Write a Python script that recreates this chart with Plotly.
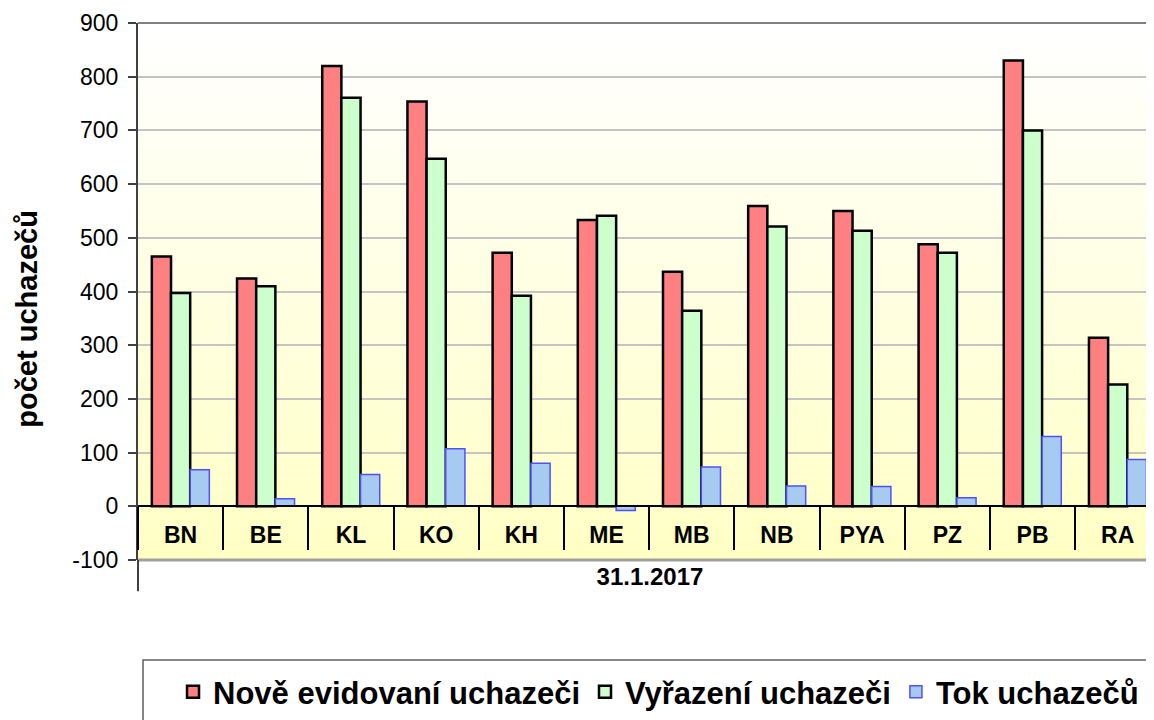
import plotly.graph_objects as go

categories = ["BN", "BE", "KL", "KO", "KH", "ME", "MB", "NB", "PYA", "PZ", "PB", "RA"]
nove = [465, 424, 820, 754, 472, 533, 437, 559, 550, 488, 830, 314]
vyrazeni = [397, 410, 761, 647, 392, 541, 364, 521, 513, 472, 700, 227]
tok = [68, 14, 59, 107, 80, -8, 73, 38, 37, 16, 130, 87]
y_ticks = [-100, 0, 100, 200, 300, 400, 500, 600, 700, 800, 900]
y_tick_labels = [str(v) for v in y_ticks]
date_label = "31.1.2017"
y_title = "počet uchazečů"

FONT = "Arial, Liberation Sans, sans-serif"

fig = go.Figure()
fig.add_trace(go.Bar(x=categories, y=nove, name="Nově evidovaní uchazeči",
                     marker=dict(color="#FF8080", line=dict(color="black", width=2.5))))
fig.add_trace(go.Bar(x=categories, y=vyrazeni, name="Vyřazení uchazeči",
                     marker=dict(color="#CCFFCC", line=dict(color="black", width=2.5))))
fig.add_trace(go.Bar(x=categories, y=tok, name="Tok uchazečů",
                     marker=dict(color="#A6CAF0", line=dict(color="#5050FF", width=1.5))))

# gradient background for plot area (white -> light yellow)
shapes = []
N = 60
for i in range(N):
    t = (i + 0.5) / N  # 0 at top
    b = int(round(255 - t * (255 - 196)))
    shapes.append(dict(type="rect", xref="paper", yref="paper",
                       x0=0, x1=1, y0=1 - (i + 1) / N, y1=1 - i / N,
                       fillcolor=f"rgb(255,255,{b})", line=dict(width=0), layer="below"))
# top and bottom borders of plot area
shapes.append(dict(type="line", xref="paper", yref="paper", x0=0, x1=1, y0=1, y1=1,
                   line=dict(color="#808080", width=2)))
shapes.append(dict(type="line", xref="paper", yref="paper", x0=0, x1=1, y0=0, y1=0,
                   line=dict(color="#A0A0A0", width=3)))
# extension of the value axis below the plot area
shapes.append(dict(type="line", xref="paper", yref="paper", x0=0, x1=0, y0=0, y1=-0.058,
                   line=dict(color="#404040", width=2)))
# legend frame
shapes.append(dict(type="rect", xref="paper", yref="paper", x0=0.0049, x1=1.05,
                   y0=-0.186, y1=-0.4, line=dict(color="#606060", width=1.5),
                   fillcolor="rgba(0,0,0,0)"))

fig.update_layout(
    width=1154, height=720, autosize=False,
    margin=dict(l=130, r=0, t=15, b=168, autoexpand=False),
    paper_bgcolor="white", plot_bgcolor="white",
    barmode="group", bargap=0.325, bargroupgap=0,
    font=dict(family=FONT, color="black"),
    shapes=shapes,
    showlegend=True,
    legend=dict(orientation="h", x=0.0342, xanchor="left", y=-0.2458, yanchor="middle",
                font=dict(family=FONT, size=31, color="black", weight="bold"),
                bgcolor="rgba(0,0,0,0)", borderwidth=0, traceorder="normal"),
    xaxis=dict(type="category", range=[-0.5, 11.52], anchor="free", position=0.1,
               automargin=False,
               showline=True, linecolor="black", linewidth=2,
               ticks="outside", tickson="boundaries", ticklen=43, tickwidth=1.5,
               tickcolor="black", ticklabelstandoff=8,
               tickfont=dict(family=FONT, size=23, weight="bold", color="black"),
               showgrid=False, zeroline=False,
               title=dict(text=date_label, standoff=20,
                          font=dict(family=FONT, size=24, weight="bold", color="black"))),
    yaxis=dict(range=[-100, 900], tickvals=y_ticks, ticktext=y_tick_labels,
               showline=True, linecolor="#404040",
               automargin=False,
               linewidth=2, ticks="outside", ticklen=8, tickwidth=1.5, tickcolor="#404040",
               ticklabelstandoff=5,
               tickfont=dict(family=FONT, size=23, color="black"),
               showgrid=True, gridcolor="#C4C4C4", gridwidth=1.5, zeroline=False),
    annotations=[dict(text=y_title, textangle=-90, xref="paper", yref="paper",
                      x=0, xshift=-110.5, y=0.4484, xanchor="center", yanchor="middle",
                      showarrow=False,
                      font=dict(family=FONT, size=29, weight="bold", color="black"))],
)

fig.write_html("out.html")
